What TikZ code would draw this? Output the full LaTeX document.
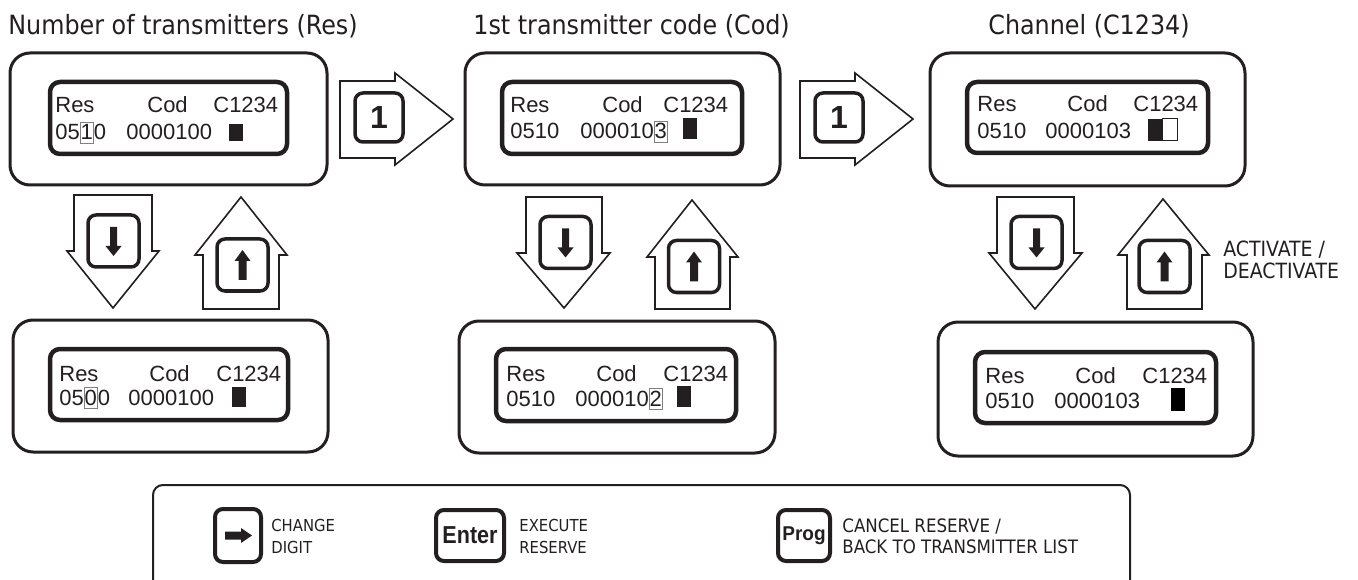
\documentclass[tikz,border=0pt]{standalone}
\usepackage{fontspec}
\setmainfont{Liberation Sans}
\newfontfamily\tahoma{DejaVu Sans Condensed}
\definecolor{ink}{RGB}{35,31,32}

\newcommand{\curdigit}[1]{{\setlength{\fboxsep}{0pt}\setlength{\fboxrule}{0.9pt}\fcolorbox{gray}{white}{\rule[-3pt]{0pt}{20pt}#1}}}

\tikzset{every picture/.style={line width=0.75pt}}
\tikzset{
  panel/.style={draw=ink, line width=3pt, rounded corners=20pt, minimum width=315pt, minimum height=132pt, inner sep=0pt},
  lcd/.style={draw=ink, line width=4.5pt, rounded corners=10pt, minimum width=240pt, minimum height=71pt, inner sep=0pt},
  lcdtext/.style={anchor=base west, inner sep=0pt, text=ink, font=\fontsize{22}{26}\selectfont},
  key/.style={draw=ink, fill=white, line width=3.5pt, rounded corners=8pt, minimum width=51pt, minimum height=52pt, inner sep=0pt},
  legkey/.style={key, line width=4pt},
  blockarrow/.style={draw=ink, line width=1.6pt, fill=white, line join=miter},
  title/.style={anchor=base west, inner sep=0pt, text=ink, font=\tahoma\fontsize{26.5}{30}\selectfont},
  note/.style={anchor=base west, inner sep=0pt, text=ink, font=\tahoma\fontsize{16.5}{20}\selectfont},
  % glyphs are drawn in the pic's own y-up frame
  downglyph/.pic={\fill[ink] (-3.5,14) -- (3.5,14) -- (3.5,-5) -- (8,-5) -- (0,-15) -- (-8,-5) -- (-3.5,-5) -- cycle;},
  upglyph/.pic={\fill[ink] (-4,-15) -- (4,-15) -- (4,4) -- (8,4) -- (0,15) -- (-8,4) -- (-4,4) -- cycle;},
  rightglyph/.pic={\fill[ink] (-13,-4) -- (3,-4) -- (3,-7.5) -- (14,0) -- (3,7.5) -- (3,4) -- (-13,4) -- cycle;}
}

\begin{document}
\begin{tikzpicture}[x=1pt,y=1pt,yscale=-1,xscale=1]
        \useasboundingbox (0,0) rectangle (1358,580);

        % Titles
        \node[title] (t1) at (8,35) {Number of transmitters (Res)};
        \node[title] (t2) at (473,35) {1st transmitter code (Cod)};
        \node[title] (t3) at (988,35) {Channel (C1234)};

        %Panels top row
        \node[panel, minimum width=317pt] (p1) at (168.5,119) {};
        \node[lcd, minimum width=237pt, minimum height=72pt] (l1) at (168.5,118) {};
        \node[panel] (p2) at (622.5,119) {};
        \node[lcd, minimum height=72pt] (l2) at (622,118) {};
        \node[panel, minimum height=133pt] (p3) at (1087.5,119.5) {};
        \node[lcd, minimum width=241pt] (l3) at (1087.5,117.5) {};

        %Panels bottom row
        \node[panel] (b1) at (170.5,386) {};
        \node[lcd, minimum width=238pt] (lb1) at (169,384.5) {};
        \node[panel, minimum width=316pt] (b2) at (617,387) {};
        \node[lcd, minimum height=72pt] (lb2) at (616,385) {};
        \node[panel, minimum height=134pt] (b3) at (1095.5,389) {};
        \node[lcd, minimum width=241pt] (lb3) at (1095.5,387.5) {};

        % LCD text, top row
        \node[lcdtext] (r1) at (55,113) {Res};
        \node[lcdtext] (c1) at (147,113) {Cod};
        \node[lcdtext] (h1) at (213,113) {C1234};
        \node[lcdtext] (n1) at (55,140) {05\curdigit{1}0};
        \node[lcdtext] (d1) at (126,140) {0000100};
        \fill[ink] (229,124) rectangle (243,141);

        \node[lcdtext] (r2) at (510,113) {Res};
        \node[lcdtext] (c2) at (602,113) {Cod};
        \node[lcdtext] (h2) at (663,113) {C1234};
        \node[lcdtext] (n2) at (510,139) {0510};
        \node[lcdtext] (d2) at (580,139) {000010\curdigit{3}};
        \fill[ink] (683,118) rectangle (697,139);

        \node[lcdtext] (r3) at (977,112) {Res};
        \node[lcdtext] (c3) at (1067,112) {Cod};
        \node[lcdtext] (h3) at (1133,112) {C1234};
        \node[lcdtext] (n3) at (977,139) {0510};
        \node[lcdtext] (d3) at (1045,139) {0000103};
        \fill[ink] (1148,119) rectangle (1162,141);
        \draw[ink, line width=1pt] (1162,119) rectangle (1177,141);

        % LCD text, bottom row
        \node[lcdtext] (rb1) at (59,381) {Res};
        \node[lcdtext] (cb1) at (149,381) {Cod};
        \node[lcdtext] (hb1) at (216,381) {C1234};
        \node[lcdtext] (nb1) at (59,405) {05\curdigit{0}0};
        \node[lcdtext] (db1) at (128,405) {0000100};
        \fill[ink] (232,387) rectangle (246,407);

        \node[lcdtext] (rb2) at (506,381) {Res};
        \node[lcdtext] (cb2) at (596,381) {Cod};
        \node[lcdtext] (hb2) at (663,381) {C1234};
        \node[lcdtext] (nb2) at (506,406) {0510};
        \node[lcdtext] (db2) at (575,406) {000010\curdigit{2}};
        \fill[ink] (677,386) rectangle (691,407);

        \node[lcdtext] (rb3) at (985,383) {Res};
        \node[lcdtext] (cb3) at (1075,383) {Cod};
        \node[lcdtext] (hb3) at (1142,383) {C1234};
        \node[lcdtext] (nb3) at (985,408) {0510};
        \node[lcdtext] (db3) at (1054,408) {0000103};
        \fill[black] (1171,388) rectangle (1185,411);

        %Block arrows to the right
        \draw[blockarrow] (340,81) -- (395,81) -- (395,73) -- (453,119) -- (395,165) -- (395,158) -- (340,158) -- cycle;
        \node[key, minimum width=48pt, minimum height=49pt, font=\bfseries\fontsize{32}{32}\selectfont, text=ink] (k1) at (379,117.5) {1};
        \draw[blockarrow] (800,81) -- (855,81) -- (855,73) -- (913,119) -- (855,165) -- (855,158) -- (800,158) -- cycle;
        \node[key, minimum width=48pt, minimum height=49pt, font=\bfseries\fontsize{32}{32}\selectfont, text=ink] (k2) at (839,117.5) {1};

        %Block arrows down and up
        \draw[blockarrow] (74,195) -- (152,195) -- (152,251) -- (159,251) -- (113,308) -- (67,251) -- (74,251) -- cycle;
        \node[key] (kd1) at (113.5,241) {};
        \pic at (kd1.center) {downglyph};
        \draw[blockarrow] (241,197) -- (287,255) -- (279,255) -- (279,309) -- (203,309) -- (203,255) -- (195,255) -- cycle;
        \node[key] (ku1) at (242.5,265) {};
        \pic at (ku1.center) {upglyph};

        \draw[blockarrow] (526,197) -- (602,197) -- (602,253) -- (610,253) -- (564,308) -- (517,253) -- (526,253) -- cycle;
        \node[key] (kd2) at (565.5,242.5) {};
        \pic at (kd2.center) {downglyph};
        \draw[blockarrow] (692,200) -- (738,257) -- (730,257) -- (730,309) -- (655,309) -- (655,257) -- (647,257) -- cycle;
        \node[key] (ku2) at (694,266.5) {};
        \pic at (ku2.center) {upglyph};

        \draw[blockarrow] (997,197) -- (1074,197) -- (1074,253) -- (1082,253) -- (1035,309) -- (989,253) -- (997,253) -- cycle;
        \node[key] (kd3) at (1036.5,242.5) {};
        \pic at (kd3.center) {downglyph};
        \draw[blockarrow] (1163,199) -- (1209,255) -- (1202,255) -- (1202,309) -- (1127,309) -- (1127,255) -- (1118,255) -- cycle;
        \node[key] (ku3) at (1164.5,266.5) {};
        \pic at (ku3.center) {upglyph};

        \node[note, font=\tahoma\fontsize{21}{24}\selectfont] (act) at (1223,257) {ACTIVATE /};
        \node[note, font=\tahoma\fontsize{21}{24}\selectfont] (deact) at (1223,279) {DEACTIVATE};

        % Legend
        \draw[ink, line width=2pt, rounded corners=10pt] (153,600) -- (153,485) -- (1130,485) -- (1130,600);
        \node[legkey, minimum width=46pt, minimum height=53pt] (kr) at (238,535.5) {};
        \pic at (kr.center) {rightglyph};
        \node[note] (chg1) at (271,531) {CHANGE};
        \node[note] (chg2) at (271,553) {DIGIT};
        \node[legkey, minimum width=68pt, minimum height=51pt, text=ink, font=\bfseries\fontsize{24.5}{25}\selectfont] (ke) at (470,535.5) {\scalebox{0.88}[1]{Enter}};
        \node[note] (exe1) at (519,531) {EXECUTE};
        \node[note] (exe2) at (519,553) {RESERVE};
        \node[legkey, minimum width=52pt, minimum height=51pt, text=ink, font=\bfseries\fontsize{20}{20}\selectfont] (kp) at (804,535.5) {\scalebox{0.95}[1]{Prog}};
        \node[note, font=\tahoma\fontsize{18.5}{20}\selectfont] (can1) at (842,532) {CANCEL RESERVE /};
        \node[note, font=\tahoma\fontsize{18.5}{20}\selectfont] (can2) at (842,553) {BACK TO TRANSMITTER LIST};

\end{tikzpicture}
\end{document}
